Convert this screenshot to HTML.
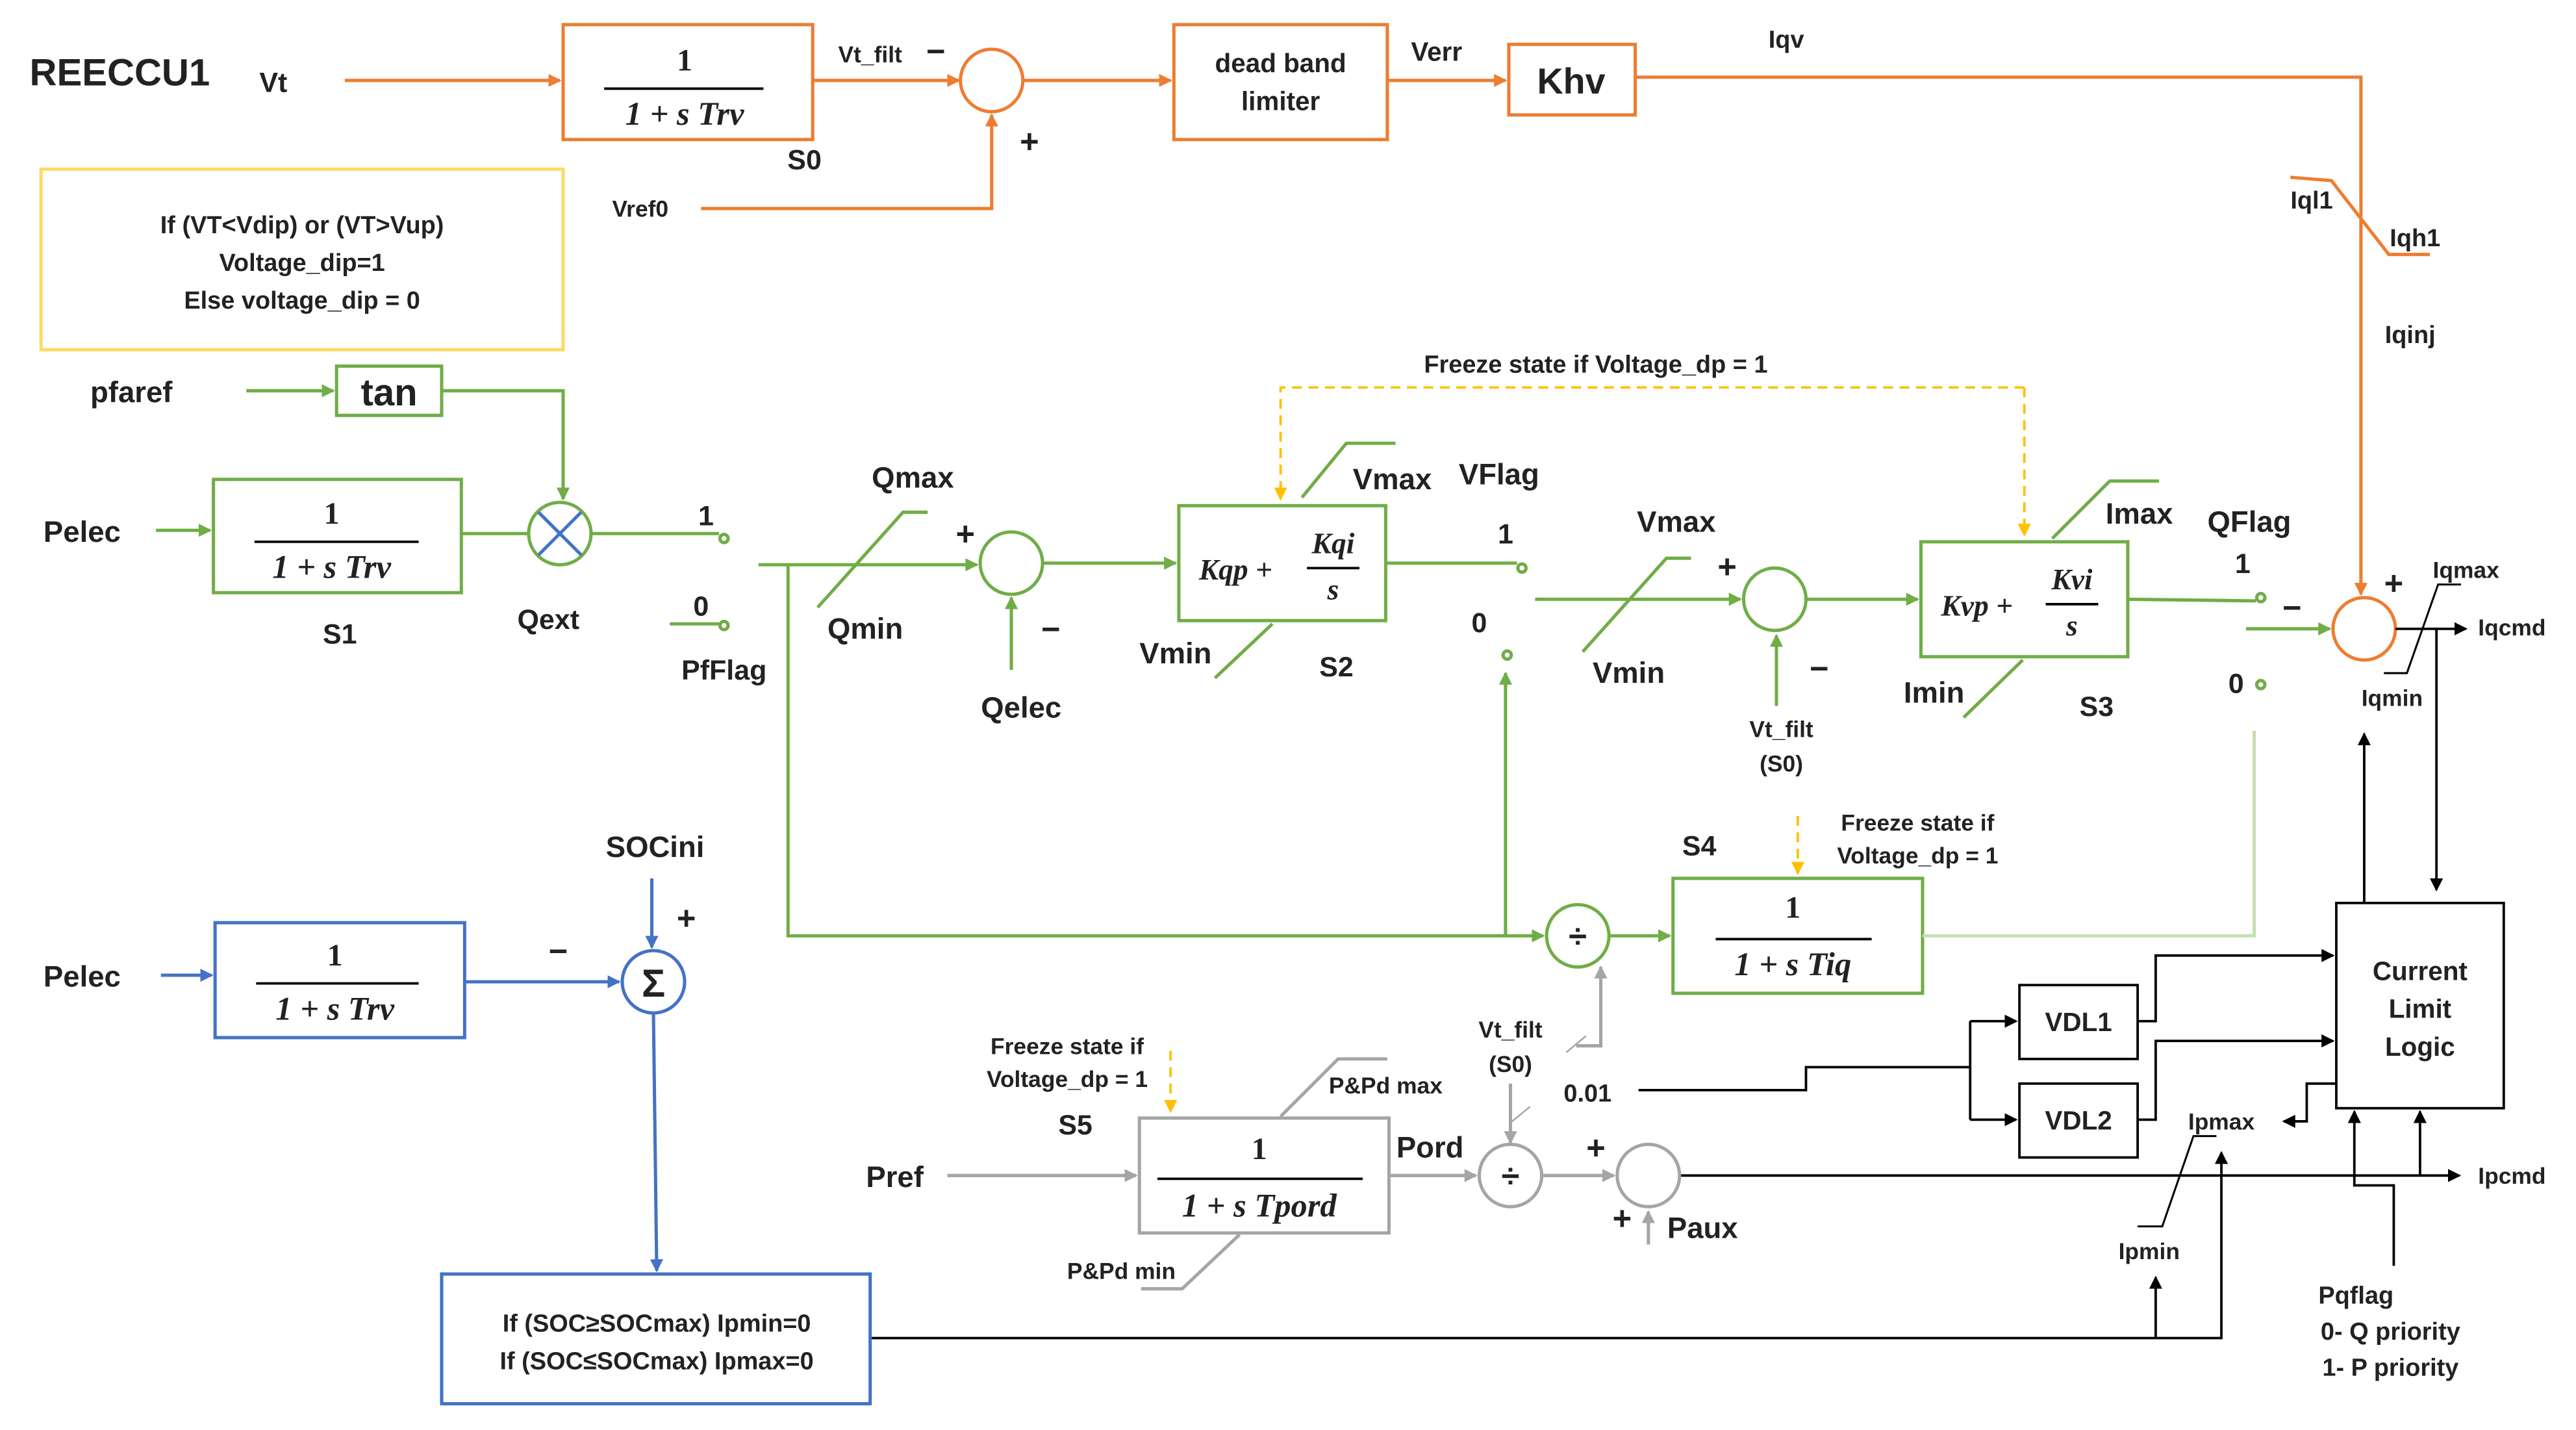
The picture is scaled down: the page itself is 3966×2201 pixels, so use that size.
<!DOCTYPE html>
<html><head><meta charset="utf-8"><style>
html,body{margin:0;padding:0;background:#fff;}
svg{display:block}
text{font-family:"Liberation Sans",sans-serif;font-weight:bold;fill:#222;}
.m{font-family:"Liberation Serif",serif;font-style:italic;font-weight:bold;}
.mn{font-family:"Liberation Serif",serif;font-weight:bold;}
</style></head><body>
<svg width="3966" height="2201" viewBox="0 0 1569 871" preserveAspectRatio="none" xmlns="http://www.w3.org/2000/svg">
<defs>
<marker id="ao" markerWidth="8" markerHeight="8" refX="7" refY="4" orient="auto" markerUnits="userSpaceOnUse"><path d="M0,0 L8,4 L0,8z" fill="#ed7d31"/></marker>
<marker id="ag" markerWidth="8" markerHeight="8" refX="7" refY="4" orient="auto" markerUnits="userSpaceOnUse"><path d="M0,0 L8,4 L0,8z" fill="#70ad47"/></marker>
<marker id="ab" markerWidth="8" markerHeight="8" refX="7" refY="4" orient="auto" markerUnits="userSpaceOnUse"><path d="M0,0 L8,4 L0,8z" fill="#4472c4"/></marker>
<marker id="ak" markerWidth="8" markerHeight="8" refX="7" refY="4" orient="auto" markerUnits="userSpaceOnUse"><path d="M0,0 L8,4 L0,8z" fill="#000"/></marker>
<marker id="ay" markerWidth="8" markerHeight="8" refX="7" refY="4" orient="auto" markerUnits="userSpaceOnUse"><path d="M0,0 L8,4 L0,8z" fill="#ffc000"/></marker>
<marker id="ar" markerWidth="8" markerHeight="8" refX="7" refY="4" orient="auto" markerUnits="userSpaceOnUse"><path d="M0,0 L8,4 L0,8z" fill="#a5a5a5"/></marker>
</defs>
<rect width="1569" height="871" fill="#fff"/>
<!-- Orange top -->
<g stroke="#ed7d31" stroke-width="2" fill="none">
<path d="M210,49 H341" marker-end="url(#ao)"/>
<rect x="343" y="15" width="152" height="70"/>
<path d="M495,49 H584" marker-end="url(#ao)"/>
<circle cx="604" cy="49" r="19"/>
<path d="M427,127 H604 V70" marker-end="url(#ao)"/>
<path d="M623,49 H713" marker-end="url(#ao)"/>
<rect x="715" y="15" width="130" height="70"/>
<path d="M845,49 H917" marker-end="url(#ao)"/>
<rect x="919" y="27" width="77" height="43"/>
<path d="M996,47 H1438 V362" marker-end="url(#ao)"/>
<circle cx="1440" cy="383" r="19"/>
<path d="M1395,108 L1420,110 L1455,155 L1480,155"/>
</g>
<line x1="368" y1="54" x2="465" y2="54" stroke="#000" stroke-width="1.5"/>
<text x="417" y="43" font-size="19" text-anchor="middle" class="mn">1</text>
<text x="417" y="76" font-size="20" text-anchor="middle" class="m">1 + s Trv</text>
<text x="18" y="52" font-size="23">REECCU1</text>
<text x="158" y="56" font-size="17">Vt</text>
<text x="490" y="103" font-size="17" text-anchor="middle">S0</text>
<text x="530" y="38" font-size="14" text-anchor="middle">Vt_filt</text>
<text x="570" y="38" font-size="20" text-anchor="middle">−</text>
<text x="627" y="93" font-size="20" text-anchor="middle">+</text>
<text x="390" y="132" font-size="14" text-anchor="middle">Vref0</text>
<text x="780" y="44" font-size="16" text-anchor="middle">dead band</text>
<text x="780" y="67" font-size="16" text-anchor="middle">limiter</text>
<text x="875" y="37" font-size="16" text-anchor="middle">Verr</text>
<text x="957" y="57" font-size="22" text-anchor="middle">Khv</text>
<text x="1088" y="29" font-size="15" text-anchor="middle">Iqv</text>
<text x="1408" y="127" font-size="15" text-anchor="middle">Iql1</text>
<text x="1471" y="150" font-size="15" text-anchor="middle">Iqh1</text>
<text x="1468" y="209" font-size="15" text-anchor="middle">Iqinj</text>
<!-- yellow box -->
<rect x="25" y="103" width="318" height="110" fill="none" stroke="#ffd966" stroke-width="2"/>
<text x="184" y="142" font-size="15" text-anchor="middle">If (VT&lt;Vdip) or (VT&gt;Vup)</text>
<text x="184" y="165" font-size="15" text-anchor="middle">Voltage_dip=1</text>
<text x="184" y="188" font-size="15" text-anchor="middle">Else voltage_dip = 0</text>
<!-- Green -->
<g stroke="#70ad47" stroke-width="2" fill="none">
<path d="M150,238 H203" marker-end="url(#ag)"/>
<rect x="205" y="223" width="64" height="30"/>
<path d="M269,238 H343 V304" marker-end="url(#ag)"/>
<path d="M95,323 H128" marker-end="url(#ag)"/>
<rect x="130" y="292" width="151" height="69"/>
<path d="M281,325 H322"/>
<circle cx="341" cy="325" r="19"/>
<path d="M360,325 H438"/>
<circle cx="441" cy="328" r="2.5"/>
<path d="M408,380 H438"/>
<circle cx="441" cy="381" r="2.5"/>
<path d="M462,344 H595" marker-end="url(#ag)"/>
<path d="M498,370 L550,312 H565"/>
<circle cx="616" cy="343" r="19"/>
<path d="M616,408 V364" marker-end="url(#ag)"/>
<path d="M635,343 H716" marker-end="url(#ag)"/>
<rect x="718" y="308" width="126" height="70"/>
<path d="M793,303 L820,270 H850"/>
<path d="M740,413 L775,380"/>
<path d="M844,343 H924"/>
<circle cx="927" cy="346" r="2.5"/>
<circle cx="918" cy="399" r="2.5"/>
<path d="M480,345 V570 H940" marker-end="url(#ag)"/>
<path d="M917,570 V410" marker-end="url(#ag)"/>
<circle cx="961" cy="570" r="19"/>
<path d="M935,365 H1060" marker-end="url(#ag)"/>
<path d="M964,397 L1015,340 H1030"/>
<circle cx="1081" cy="365" r="19"/>
<path d="M1082,430 V387" marker-end="url(#ag)"/>
<path d="M1100,365 H1168" marker-end="url(#ag)"/>
<rect x="1170" y="330" width="126" height="70"/>
<path d="M1250,328 L1285,293 H1315"/>
<path d="M1196,437 L1232,402"/>
<path d="M1296,365 L1374,366"/>
<circle cx="1377" cy="364" r="2.5"/>
<circle cx="1377" cy="417" r="2.5"/>
<path d="M1368,383 H1419" marker-end="url(#ag)"/>
<path d="M980,570 H1017" marker-end="url(#ag)"/>
<rect x="1019" y="535" width="152" height="70"/>
</g>
<path d="M1373,445 V570 H1171" stroke="#c5e0b4" stroke-width="2" fill="none"/>
<g stroke="#000" stroke-width="1.5">
<line x1="155" y1="330" x2="255" y2="330"/>
<line x1="1045" y1="572" x2="1140" y2="572"/>
<line x1="796" y1="346" x2="828" y2="346"/>
<line x1="1246" y1="368" x2="1278" y2="368"/>
</g>
<g stroke="#4472c4" stroke-width="2"><line x1="328" y1="312" x2="354" y2="338"/><line x1="354" y1="312" x2="328" y2="338"/></g>
<text x="237" y="247" font-size="23" text-anchor="middle">tan</text>
<text x="80" y="245" font-size="18" text-anchor="middle">pfaref</text>
<text x="50" y="330" font-size="18" text-anchor="middle">Pelec</text>
<text x="202" y="319" font-size="19" text-anchor="middle" class="mn">1</text>
<text x="202" y="352" font-size="20" text-anchor="middle" class="m">1 + s Trv</text>
<text x="207" y="392" font-size="17" text-anchor="middle">S1</text>
<text x="430" y="320" font-size="17" text-anchor="middle">1</text>
<text x="427" y="375" font-size="17" text-anchor="middle">0</text>
<text x="334" y="383" font-size="17" text-anchor="middle">Qext</text>
<text x="441" y="414" font-size="17" text-anchor="middle">PfFlag</text>
<text x="556" y="297" font-size="18" text-anchor="middle">Qmax</text>
<text x="527" y="389" font-size="18" text-anchor="middle">Qmin</text>
<text x="588" y="332" font-size="20" text-anchor="middle">+</text>
<text x="640" y="390" font-size="20" text-anchor="middle">−</text>
<text x="622" y="437" font-size="18" text-anchor="middle">Qelec</text>
<text x="775" y="353" font-size="18" text-anchor="end" class="m">Kqp +</text>
<text x="812" y="337" font-size="18" text-anchor="middle" class="m">Kqi</text>
<text x="812" y="365" font-size="18" text-anchor="middle" class="m">s</text>
<text x="848" y="298" font-size="18" text-anchor="middle">Vmax</text>
<text x="716" y="404" font-size="18" text-anchor="middle">Vmin</text>
<text x="814" y="412" font-size="17" text-anchor="middle">S2</text>
<text x="913" y="295" font-size="18" text-anchor="middle">VFlag</text>
<text x="917" y="331" font-size="17" text-anchor="middle">1</text>
<text x="901" y="385" font-size="17" text-anchor="middle">0</text>
<text x="1021" y="324" font-size="18" text-anchor="middle">Vmax</text>
<text x="992" y="416" font-size="18" text-anchor="middle">Vmin</text>
<text x="1052" y="352" font-size="20" text-anchor="middle">+</text>
<text x="1108" y="414" font-size="20" text-anchor="middle">−</text>
<text x="1085" y="449" font-size="14" text-anchor="middle">Vt_filt</text>
<text x="1085" y="470" font-size="14" text-anchor="middle">(S0)</text>
<text x="1226" y="375" font-size="18" text-anchor="end" class="m">Kvp +</text>
<text x="1262" y="359" font-size="18" text-anchor="middle" class="m">Kvi</text>
<text x="1262" y="387" font-size="18" text-anchor="middle" class="m">s</text>
<text x="1303" y="319" font-size="18" text-anchor="middle">Imax</text>
<text x="1178" y="428" font-size="18" text-anchor="middle">Imin</text>
<text x="1277" y="436" font-size="17" text-anchor="middle">S3</text>
<text x="1370" y="324" font-size="18" text-anchor="middle">QFlag</text>
<text x="1366" y="349" font-size="17" text-anchor="middle">1</text>
<text x="1362" y="422" font-size="17" text-anchor="middle">0</text>
<text x="1396" y="377" font-size="20" text-anchor="middle">−</text>
<text x="1458" y="362" font-size="20" text-anchor="middle">+</text>
<text x="961" y="577" font-size="20" text-anchor="middle">÷</text>
<text x="1092" y="559" font-size="19" text-anchor="middle" class="mn">1</text>
<text x="1092" y="594" font-size="20" text-anchor="middle" class="m">1 + s Tiq</text>
<text x="1035" y="521" font-size="17" text-anchor="middle">S4</text>
<text x="1168" y="506" font-size="14" text-anchor="middle">Freeze state if</text>
<text x="1168" y="526" font-size="14" text-anchor="middle">Voltage_dp = 1</text>
<text x="972" y="227" font-size="15" text-anchor="middle">Freeze state if Voltage_dp = 1</text>
<!-- Yellow dashed -->
<g stroke="#ffc000" stroke-width="1.5" fill="none">
<path d="M1233,236 H780 V304" stroke-dasharray="6,4" marker-end="url(#ay)"/>
<path d="M1233,236 V326" stroke-dasharray="6,4" marker-end="url(#ay)"/>
<path d="M1095,497 V532" stroke-dasharray="6,4" marker-end="url(#ay)"/>
<path d="M713,640 V677" stroke-dasharray="6,4" marker-end="url(#ay)"/>
</g>
<!-- Iq output -->
<g stroke="#000" stroke-width="1.5" fill="none">
<path d="M1459,383 H1502" marker-end="url(#ak)"/>
<path d="M1452,410 H1466 L1485,356 H1499" stroke-width="1.2"/>
<path d="M1440,550 V447" marker-end="url(#ak)"/>
<path d="M1484,383 V542" marker-end="url(#ak)"/>
<rect x="1423" y="550" width="102" height="125"/>
<rect x="1230" y="600" width="72" height="45"/>
<rect x="1230" y="660" width="72" height="45"/>
<path d="M998,664 H1100 V650 H1200"/>
<path d="M1200,622 V682"/>
<path d="M1200,622 H1228" marker-end="url(#ak)"/>
<path d="M1200,682 H1228" marker-end="url(#ak)"/>
<path d="M1302,622 H1313 V582 H1421" marker-end="url(#ak)"/>
<path d="M1302,682 H1313 V634 H1421" marker-end="url(#ak)"/>
<path d="M1423,660 H1405 V683 H1391" marker-end="url(#ak)"/>
<path d="M1023,716 H1498" marker-end="url(#ak)"/>
<path d="M1302,747 H1317 L1336,692 H1350" stroke-width="1.2"/>
<path d="M530,815 H1353 V702" marker-end="url(#ak)"/>
<path d="M1313,815 V778" marker-end="url(#ak)"/>
<path d="M1458,771 V722 H1434 V677" marker-end="url(#ak)"/>
<path d="M1474,716 V677" marker-end="url(#ak)"/>
</g>
<text x="1530" y="387" font-size="14" text-anchor="middle">Iqcmd</text>
<text x="1502" y="352" font-size="14" text-anchor="middle">Iqmax</text>
<text x="1457" y="430" font-size="14" text-anchor="middle">Iqmin</text>
<text x="1474" y="597" font-size="16" text-anchor="middle">Current</text>
<text x="1474" y="620" font-size="16" text-anchor="middle">Limit</text>
<text x="1474" y="643" font-size="16" text-anchor="middle">Logic</text>
<text x="1266" y="628" font-size="16" text-anchor="middle">VDL1</text>
<text x="1266" y="688" font-size="16" text-anchor="middle">VDL2</text>
<text x="967" y="671" font-size="15" text-anchor="middle">0.01</text>
<text x="1530" y="721" font-size="14" text-anchor="middle">Ipcmd</text>
<text x="1353" y="688" font-size="14" text-anchor="middle">Ipmax</text>
<text x="1309" y="767" font-size="14" text-anchor="middle">Ipmin</text>
<text x="1435" y="794" font-size="15" text-anchor="middle">Pqflag</text>
<text x="1456" y="816" font-size="15" text-anchor="middle">0- Q priority</text>
<text x="1456" y="838" font-size="15" text-anchor="middle">1- P priority</text>
<!-- Blue -->
<g stroke="#4472c4" stroke-width="2" fill="none">
<path d="M98,594 H129" marker-end="url(#ab)"/>
<rect x="131" y="562" width="152" height="70"/>
<path d="M283,598 H377" marker-end="url(#ab)"/>
<circle cx="398" cy="598" r="19"/>
<path d="M397,535 V577" marker-end="url(#ab)"/>
<path d="M398,617 L400,774" marker-end="url(#ab)"/>
<rect x="269" y="776" width="261" height="79"/>
</g>
<line x1="156" y1="599" x2="255" y2="599" stroke="#000" stroke-width="1.5"/>
<text x="204" y="588" font-size="19" text-anchor="middle" class="mn">1</text>
<text x="204" y="621" font-size="20" text-anchor="middle" class="m">1 + s Trv</text>
<text x="50" y="601" font-size="18" text-anchor="middle">Pelec</text>
<text x="340" y="586" font-size="20" text-anchor="middle">−</text>
<text x="398" y="607" font-size="24" text-anchor="middle" font-weight="normal">Σ</text>
<text x="399" y="522" font-size="18" text-anchor="middle">SOCini</text>
<text x="418" y="566" font-size="20" text-anchor="middle">+</text>
<text x="400" y="811" font-size="15" text-anchor="middle">If (SOC≥SOCmax) Ipmin=0</text>
<text x="400" y="834" font-size="15" text-anchor="middle">If (SOC≤SOCmax) Ipmax=0</text>
<!-- Grey -->
<g stroke="#a5a5a5" stroke-width="2" fill="none">
<path d="M577,716 H692" marker-end="url(#ar)"/>
<rect x="694" y="681" width="152" height="70"/>
<path d="M780,680 L815,645 H845"/>
<path d="M695,785 H720 L755,752"/>
<path d="M846,716 H899" marker-end="url(#ar)"/>
<circle cx="920" cy="716" r="19"/>
<path d="M920,660 V696" marker-end="url(#ar)"/>
<path d="M960,637 H975 V589" marker-end="url(#ar)"/>
<path d="M940,716 H983" marker-end="url(#ar)"/>
<circle cx="1004" cy="716" r="19"/>
<path d="M1004,758 V738" marker-end="url(#ar)"/>
<path d="M954,641 L966,631" stroke-width="1"/>
<path d="M921,683 L932,674" stroke-width="1"/>
</g>
<line x1="705" y1="718" x2="830" y2="718" stroke="#000" stroke-width="1.5"/>
<text x="767" y="706" font-size="19" text-anchor="middle" class="mn">1</text>
<text x="767" y="741" font-size="20" text-anchor="middle" class="m">1 + s Tpord</text>
<text x="650" y="642" font-size="14" text-anchor="middle">Freeze state if</text>
<text x="650" y="662" font-size="14" text-anchor="middle">Voltage_dp = 1</text>
<text x="655" y="691" font-size="17" text-anchor="middle">S5</text>
<text x="545" y="723" font-size="18" text-anchor="middle">Pref</text>
<text x="844" y="666" font-size="14" text-anchor="middle">P&amp;Pd max</text>
<text x="683" y="779" font-size="14" text-anchor="middle">P&amp;Pd min</text>
<text x="871" y="705" font-size="18" text-anchor="middle">Pord</text>
<text x="920" y="723" font-size="20" text-anchor="middle">÷</text>
<text x="920" y="632" font-size="14" text-anchor="middle">Vt_filt</text>
<text x="920" y="653" font-size="14" text-anchor="middle">(S0)</text>
<text x="972" y="706" font-size="20" text-anchor="middle">+</text>
<text x="988" y="749" font-size="20" text-anchor="middle">+</text>
<text x="1037" y="754" font-size="18" text-anchor="middle">Paux</text>
</svg>
</body></html>
